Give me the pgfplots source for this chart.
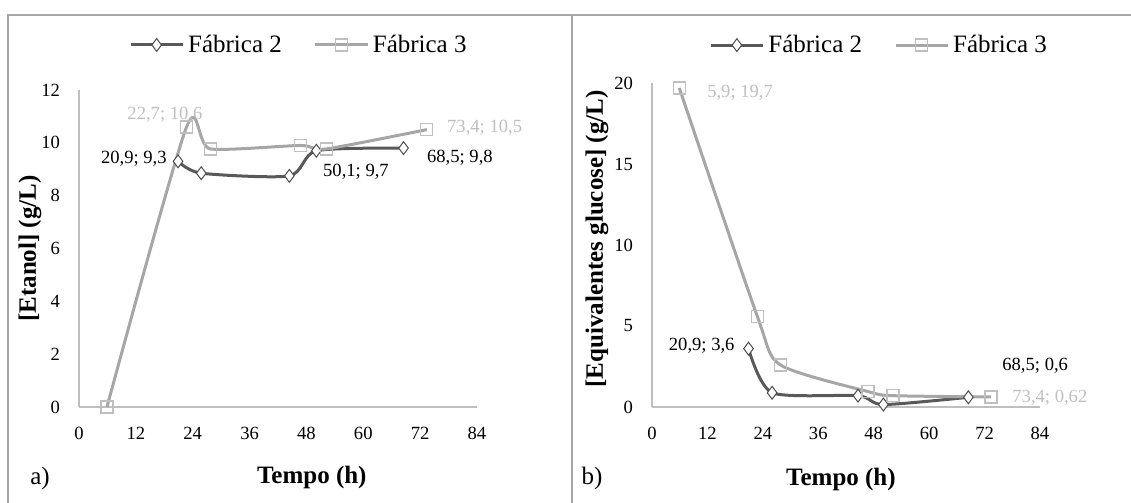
\documentclass[border=0pt]{standalone}
\usepackage{fontspec}
\setmainfont{Liberation Serif}
\usepackage{pgfplots}
\pgfplotsset{compat=1.18}
\definecolor{fdark}{HTML}{595959}
\definecolor{flight}{HTML}{A6A6A6}
\definecolor{flab}{HTML}{BFBFBF}
\definecolor{boxgray}{HTML}{A6A6A6}
\definecolor{axgray}{HTML}{BFBFBF}

\pgfplotsset{
  panel/.style={
    scale only axis, clip=false,
    axis x line*=bottom, axis y line*=left,
    axis line style={axgray, line width=0.8pt, -},
    xmin=0, xmax=84, xtick={0,12,...,84},
    major tick length=0pt,
    /pgf/number format/assume math mode=true,
    ticklabel style={font=\fontsize{9.3}{11}\selectfont},
    xticklabel style={anchor=center, yshift=-13pt},
    yticklabel style={anchor=east, xshift=-6pt},
    label style={font=\bfseries\fontsize{12.5}{14}\selectfont},
    legend cell align=left,
    legend style={draw=none, fill=none, font=\fontsize{12.5}{14}\selectfont,
      legend columns=2, anchor=center,
      /tikz/every even column/.append style={column sep=14pt}},
    legend image code/.code={%
      \draw[#1, mark repeat=2, mark phase=2] plot coordinates {(0pt,0pt) (13pt,0pt) (26pt,0pt)};},
  },
  f2/.style={fdark, line width=1.5pt, smooth, tension=0.42, mark=diamond*,
    mark options={fill=white, draw=black!70, line width=0.5pt, mark size=3.2pt, solid}},
  f3/.style={flight, line width=1.5pt, smooth, tension=0.42, mark=square,
    mark options={draw=flab, line width=0.7pt, mark size=3pt, solid}},
}
\tikzset{
  dk/.style={font=\fontsize{9.3}{11}\selectfont, text=black, inner sep=0pt},
  lt/.style={font=\fontsize{9.3}{11}\selectfont, text=flab, inner sep=0pt},
}

\begin{document}
\begin{tikzpicture}
\path[use as bounding box] (0,0) rectangle (565.5pt,251.5pt);
% panel frames
\draw[boxgray, line width=0.6pt] (4pt,-5pt) -- (4pt,244pt) -- (565.5pt,244pt);
\draw[boxgray, line width=0.6pt] (286pt,-5pt) -- (286pt,244pt);
\node[font=\fontsize{12.5}{14}\selectfont] at (20pt,12.5pt) {a)};
\node[font=\fontsize{12.5}{14}\selectfont] at (296pt,12.5pt) {b)};

% ---------------- a) etanol ----------------
\begin{axis}[panel,
  at={(39.5pt,48pt)}, anchor=south west,
  width=199pt, height=158.5pt,
  ymin=0, ymax=12, ytick={0,2,...,12},
  xlabel={Tempo (h)}, ylabel={[Etanol] (g/L)},
  xlabel style={at={(axis description cs:0.585,-0.221)}, anchor=center},
  ylabel style={at={(axis description cs:-0.123,0.5)}, anchor=center},
  legend style={at={(axis description cs:0.555,1.142)}},
]
\addplot[f2] coordinates {(20.9,9.3) (25.8,8.85) (44.4,8.75) (50.1,9.7) (68.5,9.8)};
\addlegendentry{Fábrica 2}
\addplot[f3] coordinates {(5.9,0) (22.7,10.6) (27.7,9.77) (46.7,9.9) (52.2,9.77) (73.4,10.5)};
\addlegendentry{Fábrica 3}
\node[lt, anchor=center] at ([xshift=-10.8pt,yshift=6pt]axis cs:22.7,10.6) {22,7; 10,6};
\node[dk, anchor=east] at ([xshift=-5.5pt,yshift=1.5pt]axis cs:20.9,9.3) {20,9; 9,3};
\node[dk, anchor=west] at ([xshift=3.2pt,yshift=-10.7pt]axis cs:50.1,9.7) {50,1; 9,7};
\node[dk, anchor=west] at ([xshift=11.6pt,yshift=-5pt]axis cs:68.5,9.8) {68,5; 9,8};
\node[lt, anchor=west] at ([xshift=10pt,yshift=0.8pt]axis cs:73.4,10.5) {73,4; 10,5};
\end{axis}

% ---------------- b) glucose ----------------
\begin{axis}[panel,
  at={(326pt,48pt)}, anchor=south west,
  width=194pt, height=162pt,
  ymin=0, ymax=20, ytick={0,5,...,20},
  xlabel={Tempo (h)}, ylabel={[Equivalentes glucose] (g/L)},
  xlabel style={at={(axis description cs:0.487,-0.225)}, anchor=center},
  ylabel style={at={(axis description cs:-0.142,0.519)}, anchor=center},
  legend style={at={(axis description cs:0.588,1.117)}},
]
\addplot[f2] coordinates {(20.9,3.6) (26,0.88) (44.6,0.7) (50.1,0.15) (68.5,0.6)};
\addlegendentry{Fábrica 2}
\addplot[f3] coordinates {(5.9,19.7) (22.8,5.6) (27.8,2.6) (46.8,0.95) (52.2,0.7) (73.4,0.62)};
\addlegendentry{Fábrica 3}
\node[lt, anchor=west] at ([xshift=13.8pt,yshift=-2.5pt]axis cs:5.9,19.7) {5,9; 19,7};
\node[dk, anchor=east] at ([xshift=-6.8pt,yshift=1.3pt]axis cs:20.9,3.6) {20,9; 3,6};
\node[dk, anchor=west] at ([xshift=16.8pt,yshift=15.6pt]axis cs:68.5,0.6) {68,5; 0,6};
\node[lt, anchor=west] at ([xshift=10.5pt,yshift=-0.5pt]axis cs:73.4,0.62) {73,4; 0,62};
\end{axis}
\end{tikzpicture}
\end{document}
